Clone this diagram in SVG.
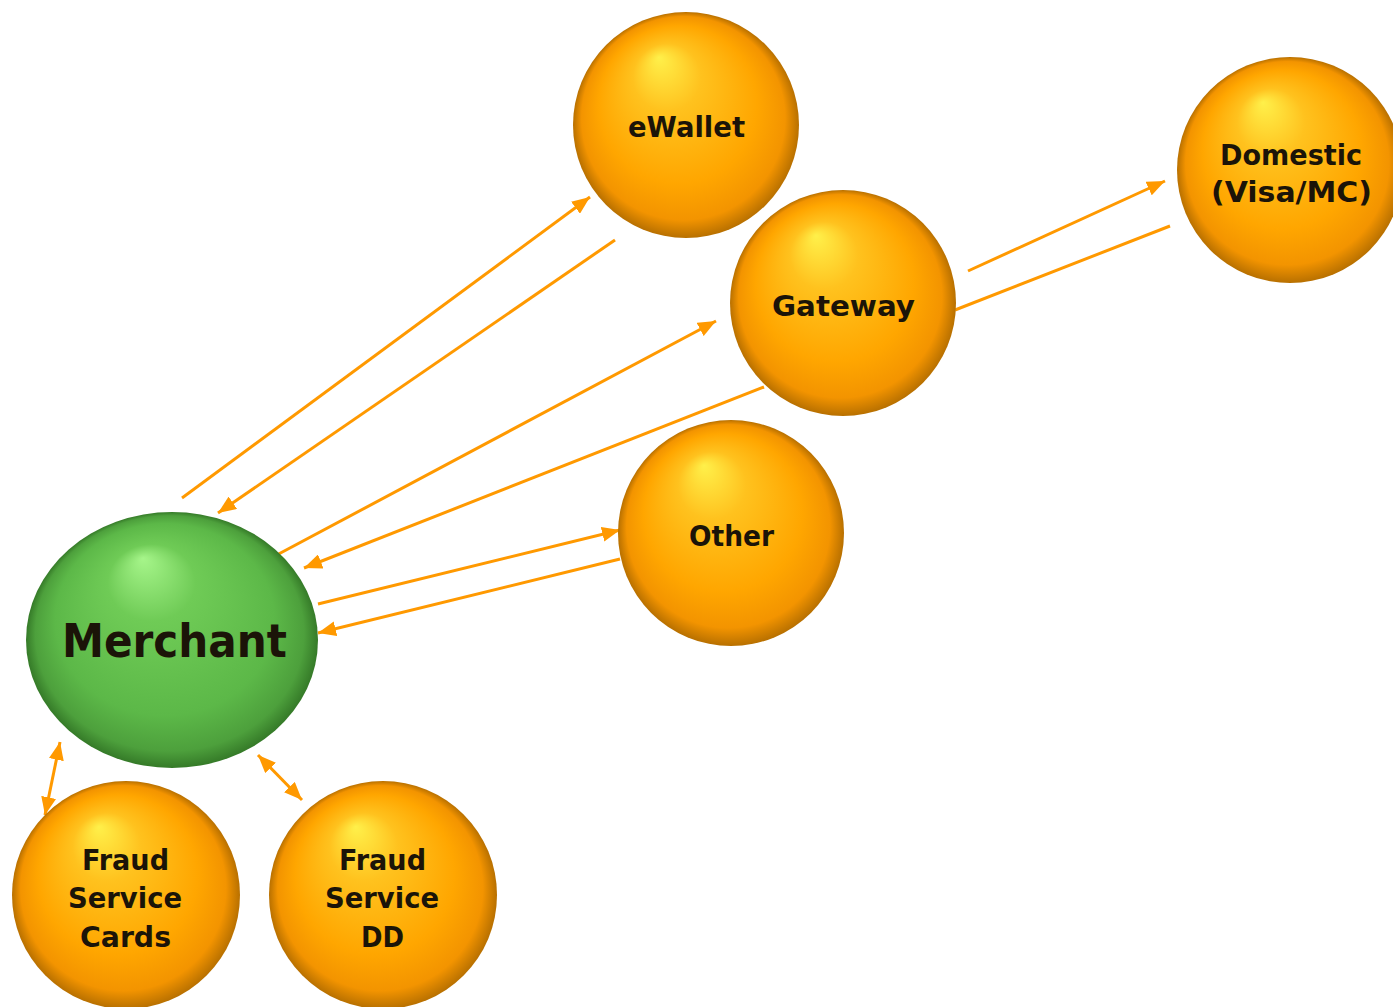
<svg xmlns="http://www.w3.org/2000/svg" width="1393" height="1007" viewBox="0 0 1393 1007">
<defs>
<radialGradient id="gOrange" cx="0.5" cy="0.5" r="0.5" fx="0.38" fy="0.2">
<stop offset="0" stop-color="#FFF04A"/>
<stop offset="0.3" stop-color="#FFC21E"/>
<stop offset="0.7" stop-color="#FFA600"/>
<stop offset="0.9" stop-color="#F39400"/>
<stop offset="1" stop-color="#B87000"/>
</radialGradient>
<radialGradient id="gGreen" cx="0.5" cy="0.5" r="0.5" fx="0.4" fy="0.18">
<stop offset="0" stop-color="#A6F58A"/>
<stop offset="0.3" stop-color="#6FCB56"/>
<stop offset="0.75" stop-color="#5CB848"/>
<stop offset="0.92" stop-color="#4DA03C"/>
<stop offset="1" stop-color="#357A28"/>
</radialGradient>
<marker id="ah" markerUnits="userSpaceOnUse" markerWidth="19" markerHeight="15" refX="18" refY="7.5" orient="auto-start-reverse">
<path d="M0,0 L18,7.5 L0,15 z" fill="#FF9900"/>
</marker>
<style>
.node-o{fill:url(#gOrange);}
.node-g{fill:url(#gGreen);}
.lbl{font-family:"DejaVu Sans","Liberation Sans",sans-serif;font-weight:bold;fill:#1B1408;text-anchor:middle;font-size:28px;}
.big{font-size:46px;}
.c{stroke:#FF9900;stroke-width:3;fill:none;}
.a{marker-end:url(#ah);}
.d{marker-start:url(#ah);marker-end:url(#ah);}
</style>
</defs>

<g id="connectors">
<line class="c a" x1="182" y1="498" x2="590" y2="197"/>
<line class="c a" x1="615" y1="240" x2="218" y2="513"/>
<line class="c a" x1="273" y1="557" x2="716" y2="321"/>
<line class="c a" x1="764" y1="387" x2="304" y2="568"/>
<line class="c a" x1="318" y1="604" x2="620" y2="530"/>
<line class="c a" x1="620" y1="559" x2="318" y2="633"/>
<line class="c a" x1="968" y1="271" x2="1165" y2="181"/>
<line class="c" x1="1170" y1="226" x2="955" y2="310"/>
<line class="c d" x1="60" y1="742" x2="45" y2="815"/>
<line class="c d" x1="258" y1="755" x2="302" y2="800"/>
</g>

<g id="ewallet">
<circle class="node-o" cx="686" cy="125" r="113"/>
<text class="lbl" x="686.5" y="137" textLength="117" lengthAdjust="spacingAndGlyphs">eWallet</text>
</g>
<g id="gateway">
<circle class="node-o" cx="843" cy="303" r="113"/>
<text class="lbl" x="843.5" y="316" textLength="143" lengthAdjust="spacingAndGlyphs">Gateway</text>
</g>
<g id="domestic">
<circle class="node-o" cx="1290" cy="170" r="113"/>
<text class="lbl" x="1291" y="165" textLength="142" lengthAdjust="spacingAndGlyphs">Domestic</text>
<text class="lbl" x="1291.5" y="202" textLength="161" lengthAdjust="spacingAndGlyphs">(Visa/MC)</text>
</g>
<g id="other">
<circle class="node-o" cx="731" cy="533" r="113"/>
<text class="lbl" x="731.5" y="546" textLength="85" lengthAdjust="spacingAndGlyphs">Other</text>
</g>
<g id="merchant">
<ellipse class="node-g" cx="172" cy="640" rx="146" ry="128"/>
<text class="lbl big" x="174.5" y="657" textLength="225" lengthAdjust="spacingAndGlyphs">Merchant</text>
</g>
<g id="fraud-cards">
<circle class="node-o" cx="126" cy="895" r="114"/>
<text class="lbl" x="125.5" y="870" textLength="87" lengthAdjust="spacingAndGlyphs">Fraud</text>
<text class="lbl" x="125" y="908" textLength="114" lengthAdjust="spacingAndGlyphs">Service</text>
<text class="lbl" x="125.5" y="947" textLength="91" lengthAdjust="spacingAndGlyphs">Cards</text>
</g>
<g id="fraud-dd">
<circle class="node-o" cx="383" cy="895" r="114"/>
<text class="lbl" x="382.5" y="870" textLength="87" lengthAdjust="spacingAndGlyphs">Fraud</text>
<text class="lbl" x="382" y="908" textLength="114" lengthAdjust="spacingAndGlyphs">Service</text>
<text class="lbl" x="382.5" y="947" textLength="43" lengthAdjust="spacingAndGlyphs">DD</text>
</g>
</svg>
